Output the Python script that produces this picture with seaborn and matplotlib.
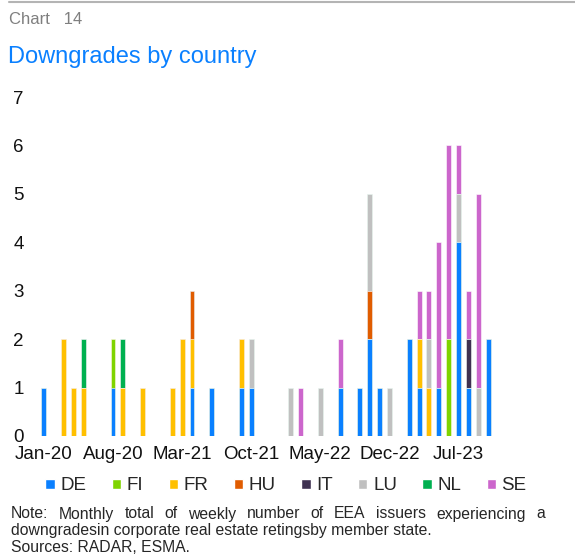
import pandas as pd
import seaborn as sns
import matplotlib.pyplot as plt
from matplotlib.patches import Patch

# monthly categories, Jan-20 .. Oct-23
months = list(pd.date_range('2020-01-01', periods=46, freq='MS').strftime('%b-%y'))
countries = ['DE', 'FI', 'FR', 'HU', 'IT', 'LU', 'NL', 'SE']
colors = ['#0a80ff', '#7fd400', '#ffc000', '#e05c00', '#3f3151', '#c0c0c0', '#00b050', '#cc66cc']

# downgrades per month, one row of 12 per year (2023 ends in Oct)
de = [1, 0, 0, 0, 0, 0, 0, 1, 0, 0, 0, 0,
      0, 0, 0, 1, 0, 1, 0, 0, 1, 1, 0, 0,
      0, 0, 0, 0, 0, 0, 1, 0, 1, 2, 1, 0,
      0, 2, 1, 0, 1, 0, 4, 1, 0, 2]
fi = [0, 0, 0, 0, 0, 0, 0, 1, 0, 0, 0, 0,
      0, 0, 0, 0, 0, 0, 0, 0, 0, 0, 0, 0,
      0, 0, 0, 0, 0, 0, 0, 0, 0, 0, 0, 0,
      0, 0, 0, 0, 0, 2, 0, 0, 0, 0]
fr = [0, 0, 2, 1, 1, 0, 0, 0, 1, 0, 1, 0,
      0, 1, 2, 1, 0, 0, 0, 0, 1, 0, 0, 0,
      0, 0, 0, 0, 0, 0, 0, 0, 0, 0, 0, 0,
      0, 0, 1, 1, 0, 0, 0, 0, 0, 0]
hu = [0, 0, 0, 0, 0, 0, 0, 0, 0, 0, 0, 0,
      0, 0, 0, 1, 0, 0, 0, 0, 0, 0, 0, 0,
      0, 0, 0, 0, 0, 0, 0, 0, 0, 1, 0, 0,
      0, 0, 0, 0, 0, 0, 0, 0, 0, 0]
it = [0, 0, 0, 0, 0, 0, 0, 0, 0, 0, 0, 0,
      0, 0, 0, 0, 0, 0, 0, 0, 0, 0, 0, 0,
      0, 0, 0, 0, 0, 0, 0, 0, 0, 0, 0, 0,
      0, 0, 0, 0, 0, 0, 0, 1, 0, 0]
lu = [0, 0, 0, 0, 0, 0, 0, 0, 0, 0, 0, 0,
      0, 0, 0, 0, 0, 0, 0, 0, 0, 1, 0, 0,
      0, 1, 0, 0, 1, 0, 0, 0, 0, 2, 0, 1,
      0, 0, 0, 1, 0, 0, 1, 0, 1, 0]
nl = [0, 0, 0, 0, 1, 0, 0, 0, 1, 0, 0, 0,
      0, 0, 0, 0, 0, 0, 0, 0, 0, 0, 0, 0,
      0, 0, 0, 0, 0, 0, 0, 0, 0, 0, 0, 0,
      0, 0, 0, 0, 0, 0, 0, 0, 0, 0]
se = [0, 0, 0, 0, 0, 0, 0, 0, 0, 0, 0, 0,
      0, 0, 0, 0, 0, 0, 0, 0, 0, 0, 0, 0,
      0, 0, 1, 0, 0, 0, 1, 0, 0, 0, 0, 0,
      0, 0, 1, 1, 3, 4, 1, 1, 4, 0]

tick_labels = months[::7]
note1 = 'Note: Monthly total of weekly number of EEA issuers experiencing a'
note2 = 'downgradesin corporate real estate retingsby member state.'
note3 = 'Sources: RADAR, ESMA.'

sns.set_style('white')
plt.rcParams['font.family'] = ['Liberation Sans', 'DejaVu Sans']

W, H = 575, 559
fig = plt.figure(figsize=(W / 100, H / 100), dpi=100)
ax = fig.add_axes([34 / W, 123 / H, 469 / W, 339 / H])

df = pd.DataFrame(dict(zip(countries, [de, fi, fr, hu, it, lu, nl, se])), index=months)
cum = df.cumsum(axis=1)

# stacked bars: draw cumulative totals from top layer down
for c, col in reversed(list(zip(countries, colors))):
    sns.barplot(x=months, y=cum[c].values, order=months, color=col, saturation=1,
                width=0.5, edgecolor='white', linewidth=0.4, ax=ax)

ax.set_xlim(-1, 46.5)
ax.set_ylim(0, 7)
ax.set_yticks(range(8))
ax.set_xticks(range(0, len(months), 7))
ax.set_xticklabels(tick_labels)
ax.set_xlabel('')
ax.set_ylabel('')
ax.tick_params(axis='both', length=0, labelsize=13.5, colors='#111111')
ax.tick_params(axis='y', pad=7.5)
ax.tick_params(axis='x', pad=7)
for s in ax.spines.values():
    s.set_visible(False)

# header
fig.add_artist(plt.Line2D([9 / W, 1], [1 - 1.5 / H, 1 - 1.5 / H], color='#b4b4b4', lw=1.5))
fig.text(9 / W, 1 - 19 / H, 'Chart   14', color='#7f7f7f', fontsize=12, va='center')
fig.text(8 / W, 1 - 57 / H, 'Downgrades by country', color='#0a80ff', fontsize=17, va='center')

handles = [Patch(facecolor=col) for col in colors]
fig.legend(handles, countries, loc='center', bbox_to_anchor=(286 / W, 1 - 486 / H), ncol=8,
           frameon=False, handlelength=0.5, handleheight=0.5, handletextpad=0.3,
           columnspacing=1.35, fontsize=13.5)

# justified first line of the note
fig.canvas.draw()
r = fig.canvas.get_renderer()
words = note1.split(' ')
objs = [fig.text(0, 1 - 514 / H, w, fontsize=11.3, va='center') for w in words]
widths = [o.get_window_extent(r).width for o in objs]
x0, x1 = 11, 545
gap = (x1 - x0 - sum(widths)) / (len(words) - 1)
x = x0
for o, w in zip(objs, widths):
    o.set_x(x / W)
    x += w + gap
fig.text(x0 / W, 1 - 531 / H, note2, fontsize=11.3, va='center')
fig.text(x0 / W, 1 - 548 / H, note3, fontsize=11.3, va='center')

fig.savefig('out.png', dpi=100)
